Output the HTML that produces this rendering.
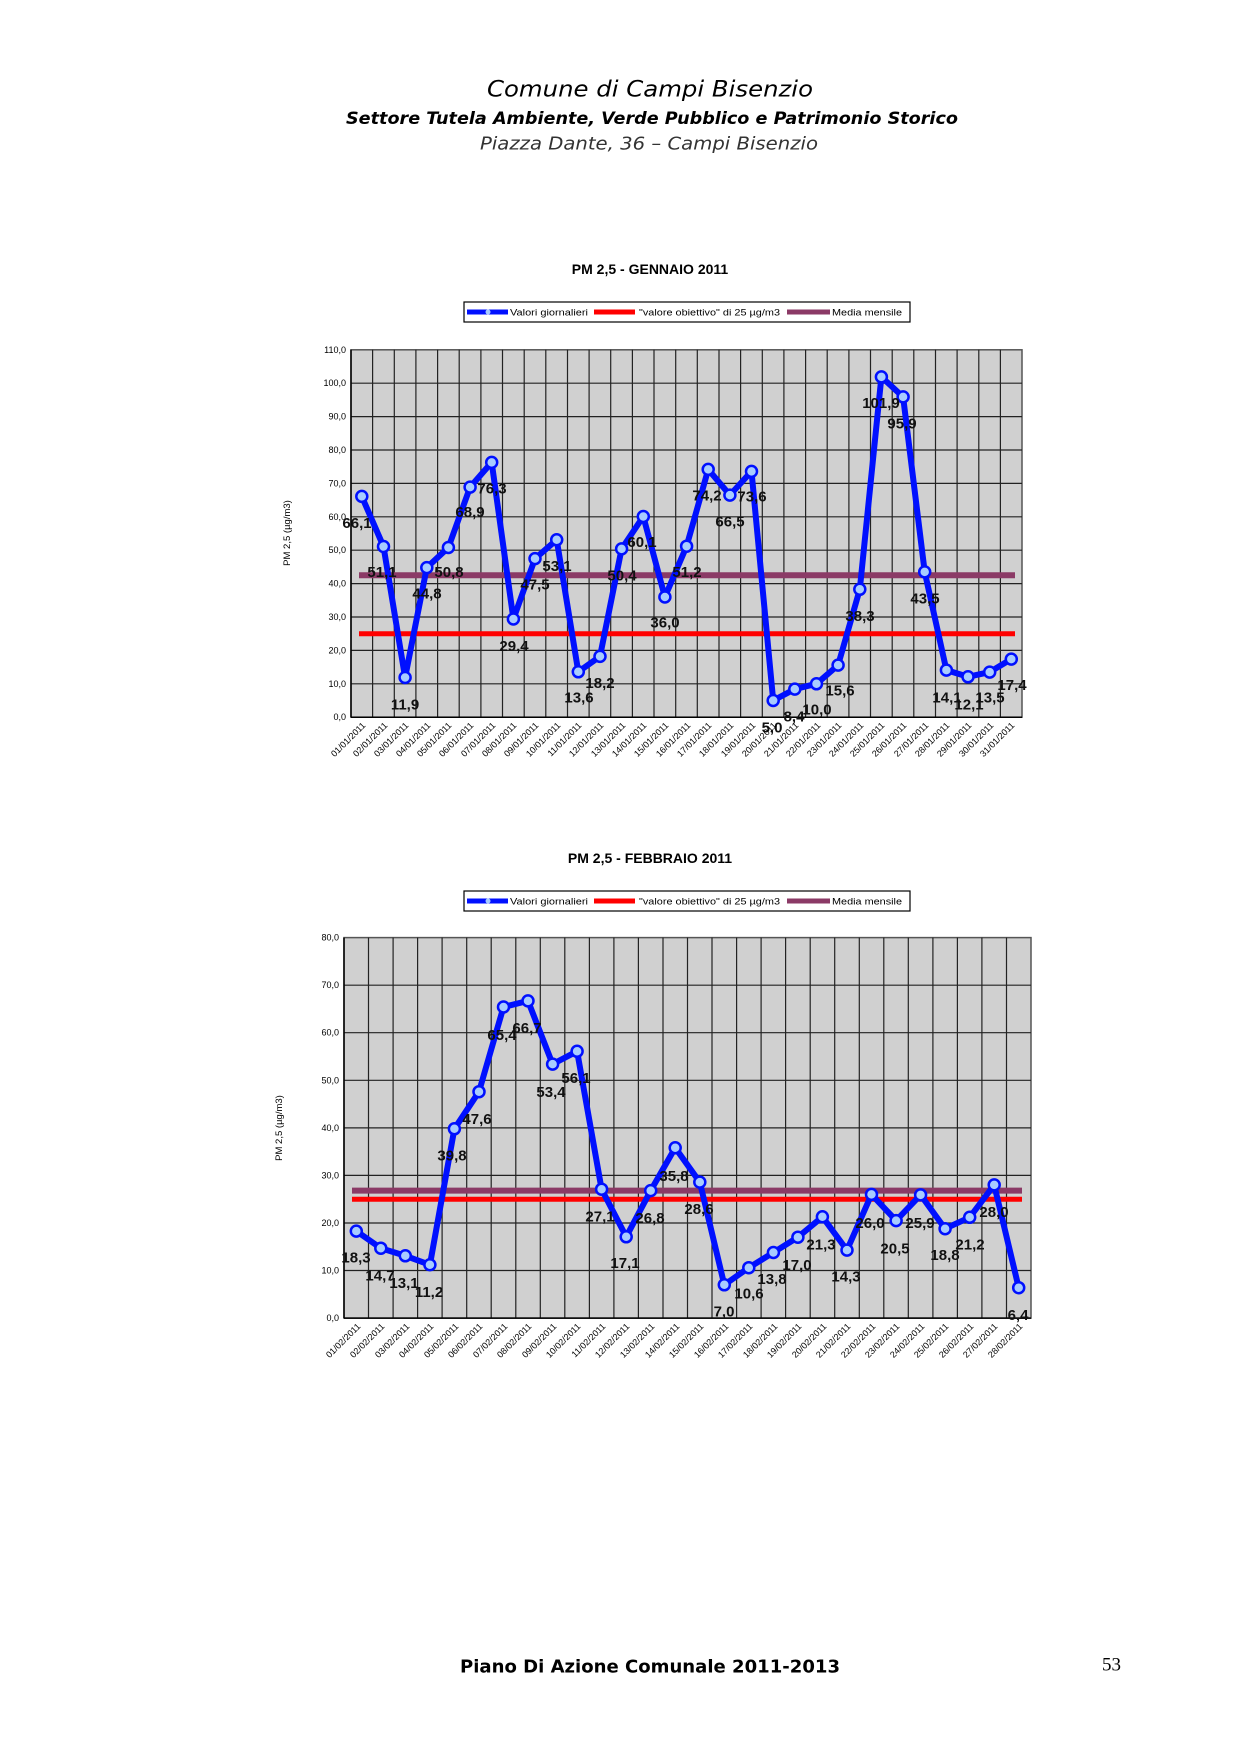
<!DOCTYPE html>
<html><head><meta charset="utf-8"><style>
html,body{margin:0;padding:0;background:#fff}
svg{display:block}
.h{font-family:"DejaVu Sans","Liberation Sans",sans-serif;text-anchor:middle}
.lb{font-family:"Liberation Sans",sans-serif;font-weight:bold;font-size:15px;text-anchor:middle;dominant-baseline:central;fill:#111}
.yt{font-family:"Liberation Sans",sans-serif;font-size:9px;text-anchor:end;dominant-baseline:central}
.xt{font-family:"Liberation Sans",sans-serif;font-size:9px;text-anchor:end}
.lg{font-family:"Liberation Sans",sans-serif;font-size:9px;dominant-baseline:central}
.tt{font-family:"Liberation Sans",sans-serif;font-weight:bold;font-size:14px;text-anchor:middle;dominant-baseline:central}
.g{stroke:#222;stroke-width:1.2}
.s{fill:none;stroke:#0010ff;stroke-width:6;stroke-linejoin:round}
.m circle{fill:#a8ccff;stroke:#0010ff;stroke-width:2.5}
</style></head><body>
<svg width="1239" height="1753" viewBox="0 0 1239 1753" xmlns="http://www.w3.org/2000/svg">
<text class="h" x="650" y="90" font-size="22" font-style="italic" dominant-baseline="central" textLength="326" lengthAdjust="spacingAndGlyphs">Comune di Campi Bisenzio</text>
<text class="h" x="652" y="119" font-size="17" font-weight="bold" font-style="italic" dominant-baseline="central" textLength="612" lengthAdjust="spacingAndGlyphs">Settore Tutela Ambiente, Verde Pubblico e Patrimonio Storico</text>
<text class="h" x="649" y="144" font-size="18" font-style="italic" fill="#333" dominant-baseline="central" textLength="338" lengthAdjust="spacingAndGlyphs">Piazza Dante, 36 – Campi Bisenzio</text>

<!-- CHART 1 -->
<text class="tt" x="650" y="269">PM 2,5 - GENNAIO 2011</text>
<rect x="464" y="302" width="446" height="20" fill="#fff" stroke="#000" stroke-width="1.2"/>
<line x1="467" y1="312" x2="508" y2="312" stroke="#0010ff" stroke-width="5"/><circle cx="488" cy="312" r="2.5" fill="#a8ccff"/>
<text class="lg" x="510" y="312.5" textLength="78" lengthAdjust="spacingAndGlyphs">Valori giornalieri</text>
<line x1="594" y1="312" x2="635" y2="312" stroke="#ff0000" stroke-width="5"/>
<text class="lg" x="639" y="312.5" textLength="141" lengthAdjust="spacingAndGlyphs">"valore obiettivo" di 25 µg/m3</text>
<line x1="787" y1="312" x2="830" y2="312" stroke="#8b3a66" stroke-width="5"/>
<text class="lg" x="832" y="312.5" textLength="70" lengthAdjust="spacingAndGlyphs">Media mensile</text>
<rect x="351" y="349.8" width="671" height="367.4" fill="#d0d0d0" stroke="#555" stroke-width="1.5"/>
<g class="g">
<line x1="351" x2="1022" y1="683.8" y2="683.8"/><line x1="351" x2="1022" y1="650.4" y2="650.4"/><line x1="351" x2="1022" y1="617" y2="617"/><line x1="351" x2="1022" y1="583.6" y2="583.6"/><line x1="351" x2="1022" y1="550.2" y2="550.2"/><line x1="351" x2="1022" y1="516.8" y2="516.8"/><line x1="351" x2="1022" y1="483.4" y2="483.4"/><line x1="351" x2="1022" y1="450" y2="450"/><line x1="351" x2="1022" y1="416.6" y2="416.6"/><line x1="351" x2="1022" y1="383.2" y2="383.2"/>
<line y1="349.8" y2="717.2" x1="372.6" x2="372.6"/><line y1="349.8" y2="717.2" x1="394.3" x2="394.3"/><line y1="349.8" y2="717.2" x1="415.9" x2="415.9"/><line y1="349.8" y2="717.2" x1="437.6" x2="437.6"/><line y1="349.8" y2="717.2" x1="459.2" x2="459.2"/><line y1="349.8" y2="717.2" x1="480.9" x2="480.9"/><line y1="349.8" y2="717.2" x1="502.5" x2="502.5"/><line y1="349.8" y2="717.2" x1="524.2" x2="524.2"/><line y1="349.8" y2="717.2" x1="545.8" x2="545.8"/><line y1="349.8" y2="717.2" x1="567.5" x2="567.5"/><line y1="349.8" y2="717.2" x1="589.1" x2="589.1"/><line y1="349.8" y2="717.2" x1="610.7" x2="610.7"/><line y1="349.8" y2="717.2" x1="632.4" x2="632.4"/><line y1="349.8" y2="717.2" x1="654" x2="654"/><line y1="349.8" y2="717.2" x1="675.7" x2="675.7"/><line y1="349.8" y2="717.2" x1="697.3" x2="697.3"/><line y1="349.8" y2="717.2" x1="719" x2="719"/><line y1="349.8" y2="717.2" x1="740.6" x2="740.6"/><line y1="349.8" y2="717.2" x1="762.3" x2="762.3"/><line y1="349.8" y2="717.2" x1="783.9" x2="783.9"/><line y1="349.8" y2="717.2" x1="805.6" x2="805.6"/><line y1="349.8" y2="717.2" x1="827.2" x2="827.2"/><line y1="349.8" y2="717.2" x1="848.9" x2="848.9"/><line y1="349.8" y2="717.2" x1="870.5" x2="870.5"/><line y1="349.8" y2="717.2" x1="892.2" x2="892.2"/><line y1="349.8" y2="717.2" x1="913.8" x2="913.8"/><line y1="349.8" y2="717.2" x1="935.5" x2="935.5"/><line y1="349.8" y2="717.2" x1="957.1" x2="957.1"/><line y1="349.8" y2="717.2" x1="978.8" x2="978.8"/><line y1="349.8" y2="717.2" x1="1000.4" x2="1000.4"/>
</g>
<line x1="351" y1="349.8" x2="351" y2="717.2" stroke="#000" stroke-width="1.5"/><line x1="351" y1="717.2" x2="1022" y2="717.2" stroke="#000" stroke-width="1.5"/>
<g class="yt"><text x="346" y="717.2">0,0</text><text x="346" y="683.8">10,0</text><text x="346" y="650.4">20,0</text><text x="346" y="617">30,0</text><text x="346" y="583.6">40,0</text><text x="346" y="550.2">50,0</text><text x="346" y="516.8">60,0</text><text x="346" y="483.4">70,0</text><text x="346" y="450">80,0</text><text x="346" y="416.6">90,0</text><text x="346" y="383.2">100,0</text><text x="346" y="349.8">110,0</text></g>
<text x="290" y="533" font-family="Liberation Sans,sans-serif" font-size="9.5" text-anchor="middle" transform="rotate(-90 290 533)">PM 2,5 (µg/m3)</text>
<line x1="359" y1="633.7" x2="1015" y2="633.7" stroke="#ff0000" stroke-width="5"/>
<line x1="359" y1="575.2" x2="1015" y2="575.2" stroke="#8b3a66" stroke-width="6"/>
<polyline class="s" points="361.8,496.4 383.5,546.5 405.1,677.5 426.8,567.6 448.4,547.5 470.1,487.1 491.7,462.4 513.4,619 535,558.6 556.7,539.8 578.3,671.8 600,656.4 621.6,548.9 643.3,516.5 664.9,597 686.6,546.2 708.2,469.4 729.9,495.1 751.5,471.4 773.2,700.5 794.8,689.1 816.5,683.8 838.1,665.1 859.8,589.3 881.4,376.9 903.1,396.9 924.7,571.9 946.4,670.1 968,676.8 989.7,672.1 1011.3,659.1"/>
<g class="m"><circle cx="361.8" cy="496.4" r="5.5"/><circle cx="383.5" cy="546.5" r="5.5"/><circle cx="405.1" cy="677.5" r="5.5"/><circle cx="426.8" cy="567.6" r="5.5"/><circle cx="448.4" cy="547.5" r="5.5"/><circle cx="470.1" cy="487.1" r="5.5"/><circle cx="491.7" cy="462.4" r="5.5"/><circle cx="513.4" cy="619" r="5.5"/><circle cx="535" cy="558.6" r="5.5"/><circle cx="556.7" cy="539.8" r="5.5"/><circle cx="578.3" cy="671.8" r="5.5"/><circle cx="600" cy="656.4" r="5.5"/><circle cx="621.6" cy="548.9" r="5.5"/><circle cx="643.3" cy="516.5" r="5.5"/><circle cx="664.9" cy="597" r="5.5"/><circle cx="686.6" cy="546.2" r="5.5"/><circle cx="708.2" cy="469.4" r="5.5"/><circle cx="729.9" cy="495.1" r="5.5"/><circle cx="751.5" cy="471.4" r="5.5"/><circle cx="773.2" cy="700.5" r="5.5"/><circle cx="794.8" cy="689.1" r="5.5"/><circle cx="816.5" cy="683.8" r="5.5"/><circle cx="838.1" cy="665.1" r="5.5"/><circle cx="859.8" cy="589.3" r="5.5"/><circle cx="881.4" cy="376.9" r="5.5"/><circle cx="903.1" cy="396.9" r="5.5"/><circle cx="924.7" cy="571.9" r="5.5"/><circle cx="946.4" cy="670.1" r="5.5"/><circle cx="968" cy="676.8" r="5.5"/><circle cx="989.7" cy="672.1" r="5.5"/><circle cx="1011.3" cy="659.1" r="5.5"/></g>
<g class="lb"><text x="357" y="523.3">66,1</text><text x="382" y="572.6">51,1</text><text x="405" y="704.9">11,9</text><text x="427" y="593.8">44,8</text><text x="449" y="572.6">50,8</text><text x="470" y="512.7">68,9</text><text x="492" y="489.1">76,3</text><text x="514" y="646.7">29,4</text><text x="535" y="585">47,5</text><text x="557" y="566.6">53,1</text><text x="579" y="697.8">13,6</text><text x="600" y="683.7">18,2</text><text x="622" y="576.2">50,4</text><text x="642" y="542.7">60,1</text><text x="665" y="623.1">36,0</text><text x="687" y="572.6">51,2</text><text x="707" y="496.1">74,2</text><text x="730" y="522.2">66,5</text><text x="752" y="496.8">73,6</text><text x="772" y="727.8">5,0</text><text x="794" y="717.2">8,4</text><text x="817" y="710.2">10,0</text><text x="840" y="690.8">15,6</text><text x="860" y="616.7">38,3</text><text x="881" y="403.4">101,9</text><text x="902" y="423.8">95,9</text><text x="925" y="599.1">43,5</text><text x="947" y="697.8">14,1</text><text x="969" y="704.9">12,1</text><text x="990" y="697.8">13,5</text><text x="1012" y="685.5">17,4</text></g>
<g class="xt">
<text transform="translate(366,726) rotate(-45)">01/01/2011</text><text transform="translate(388,726) rotate(-45)">02/01/2011</text><text transform="translate(409,726) rotate(-45)">03/01/2011</text><text transform="translate(431,726) rotate(-45)">04/01/2011</text><text transform="translate(452,726) rotate(-45)">05/01/2011</text><text transform="translate(474,726) rotate(-45)">06/01/2011</text><text transform="translate(496,726) rotate(-45)">07/01/2011</text><text transform="translate(517,726) rotate(-45)">08/01/2011</text><text transform="translate(539,726) rotate(-45)">09/01/2011</text><text transform="translate(561,726) rotate(-45)">10/01/2011</text><text transform="translate(582,726) rotate(-45)">11/01/2011</text><text transform="translate(604,726) rotate(-45)">12/01/2011</text><text transform="translate(626,726) rotate(-45)">13/01/2011</text><text transform="translate(647,726) rotate(-45)">14/01/2011</text><text transform="translate(669,726) rotate(-45)">15/01/2011</text><text transform="translate(691,726) rotate(-45)">16/01/2011</text><text transform="translate(712,726) rotate(-45)">17/01/2011</text><text transform="translate(734,726) rotate(-45)">18/01/2011</text><text transform="translate(756,726) rotate(-45)">19/01/2011</text><text transform="translate(777,726) rotate(-45)">20/01/2011</text><text transform="translate(799,726) rotate(-45)">21/01/2011</text><text transform="translate(821,726) rotate(-45)">22/01/2011</text><text transform="translate(842,726) rotate(-45)">23/01/2011</text><text transform="translate(864,726) rotate(-45)">24/01/2011</text><text transform="translate(885,726) rotate(-45)">25/01/2011</text><text transform="translate(907,726) rotate(-45)">26/01/2011</text><text transform="translate(929,726) rotate(-45)">27/01/2011</text><text transform="translate(950,726) rotate(-45)">28/01/2011</text><text transform="translate(972,726) rotate(-45)">29/01/2011</text><text transform="translate(994,726) rotate(-45)">30/01/2011</text><text transform="translate(1015,726) rotate(-45)">31/01/2011</text>
</g>

<!-- CHART 2 -->
<text class="tt" x="650" y="858">PM 2,5 - FEBBRAIO 2011</text>
<rect x="464" y="891" width="446" height="20" fill="#fff" stroke="#000" stroke-width="1.2"/>
<line x1="467" y1="901" x2="508" y2="901" stroke="#0010ff" stroke-width="5"/><circle cx="488" cy="901" r="2.5" fill="#a8ccff"/>
<text class="lg" x="510" y="901.5" textLength="78" lengthAdjust="spacingAndGlyphs">Valori giornalieri</text>
<line x1="594" y1="901" x2="635" y2="901" stroke="#ff0000" stroke-width="5"/>
<text class="lg" x="639" y="901.5" textLength="141" lengthAdjust="spacingAndGlyphs">"valore obiettivo" di 25 µg/m3</text>
<line x1="787" y1="901" x2="830" y2="901" stroke="#8b3a66" stroke-width="5"/>
<text class="lg" x="832" y="901.5" textLength="70" lengthAdjust="spacingAndGlyphs">Media mensile</text>
<rect x="344" y="937.6" width="687" height="380.5" fill="#d0d0d0" stroke="#555" stroke-width="1.5"/>
<g class="g">
<line x1="344" x2="1031" y1="1270.5" y2="1270.5"/><line x1="344" x2="1031" y1="1223" y2="1223"/><line x1="344" x2="1031" y1="1175.4" y2="1175.4"/><line x1="344" x2="1031" y1="1127.9" y2="1127.9"/><line x1="344" x2="1031" y1="1080.3" y2="1080.3"/><line x1="344" x2="1031" y1="1032.7" y2="1032.7"/><line x1="344" x2="1031" y1="985.2" y2="985.2"/>
<line y1="937.6" y2="1318.1" x1="368.5" x2="368.5"/><line y1="937.6" y2="1318.1" x1="393.1" x2="393.1"/><line y1="937.6" y2="1318.1" x1="417.6" x2="417.6"/><line y1="937.6" y2="1318.1" x1="442.1" x2="442.1"/><line y1="937.6" y2="1318.1" x1="466.7" x2="466.7"/><line y1="937.6" y2="1318.1" x1="491.2" x2="491.2"/><line y1="937.6" y2="1318.1" x1="515.8" x2="515.8"/><line y1="937.6" y2="1318.1" x1="540.3" x2="540.3"/><line y1="937.6" y2="1318.1" x1="564.8" x2="564.8"/><line y1="937.6" y2="1318.1" x1="589.4" x2="589.4"/><line y1="937.6" y2="1318.1" x1="613.9" x2="613.9"/><line y1="937.6" y2="1318.1" x1="638.4" x2="638.4"/><line y1="937.6" y2="1318.1" x1="663" x2="663"/><line y1="937.6" y2="1318.1" x1="687.5" x2="687.5"/><line y1="937.6" y2="1318.1" x1="712" x2="712"/><line y1="937.6" y2="1318.1" x1="736.6" x2="736.6"/><line y1="937.6" y2="1318.1" x1="761.1" x2="761.1"/><line y1="937.6" y2="1318.1" x1="785.6" x2="785.6"/><line y1="937.6" y2="1318.1" x1="810.2" x2="810.2"/><line y1="937.6" y2="1318.1" x1="834.7" x2="834.7"/><line y1="937.6" y2="1318.1" x1="859.3" x2="859.3"/><line y1="937.6" y2="1318.1" x1="883.8" x2="883.8"/><line y1="937.6" y2="1318.1" x1="908.3" x2="908.3"/><line y1="937.6" y2="1318.1" x1="932.9" x2="932.9"/><line y1="937.6" y2="1318.1" x1="957.4" x2="957.4"/><line y1="937.6" y2="1318.1" x1="981.9" x2="981.9"/><line y1="937.6" y2="1318.1" x1="1006.5" x2="1006.5"/>
</g>
<line x1="344" y1="937.6" x2="344" y2="1318.1" stroke="#000" stroke-width="1.5"/><line x1="344" y1="1318.1" x2="1031" y2="1318.1" stroke="#000" stroke-width="1.5"/>
<g class="yt"><text x="339" y="1318.1">0,0</text><text x="339" y="1270.5">10,0</text><text x="339" y="1223">20,0</text><text x="339" y="1175.4">30,0</text><text x="339" y="1127.9">40,0</text><text x="339" y="1080.3">50,0</text><text x="339" y="1032.7">60,0</text><text x="339" y="985.2">70,0</text><text x="339" y="937.6">80,0</text></g>
<text x="282" y="1128" font-family="Liberation Sans,sans-serif" font-size="9.5" text-anchor="middle" transform="rotate(-90 282 1128)">PM 2,5 (µg/m3)</text>
<line x1="352" y1="1199.2" x2="1022" y2="1199.2" stroke="#ff0000" stroke-width="5"/>
<line x1="352" y1="1190.6" x2="1022" y2="1190.6" stroke="#8b3a66" stroke-width="6"/>
<polyline class="s" points="356.3,1231.1 380.8,1248.2 405.3,1255.8 429.9,1264.8 454.4,1128.8 479,1091.7 503.5,1007 528,1000.9 552.6,1064.1 577.1,1051.3 601.6,1189.2 626.2,1236.8 650.7,1190.6 675.2,1147.8 699.8,1182.1 724.3,1284.8 748.8,1267.7 773.4,1252.5 797.9,1237.2 822.4,1216.8 847,1250.1 871.5,1194.4 896.1,1220.6 920.6,1194.9 945.1,1228.7 969.7,1217.3 994.2,1184.9 1018.7,1287.7"/>
<g class="m"><circle cx="356.3" cy="1231.1" r="5.5"/><circle cx="380.8" cy="1248.2" r="5.5"/><circle cx="405.3" cy="1255.8" r="5.5"/><circle cx="429.9" cy="1264.8" r="5.5"/><circle cx="454.4" cy="1128.8" r="5.5"/><circle cx="479" cy="1091.7" r="5.5"/><circle cx="503.5" cy="1007" r="5.5"/><circle cx="528" cy="1000.9" r="5.5"/><circle cx="552.6" cy="1064.1" r="5.5"/><circle cx="577.1" cy="1051.3" r="5.5"/><circle cx="601.6" cy="1189.2" r="5.5"/><circle cx="626.2" cy="1236.8" r="5.5"/><circle cx="650.7" cy="1190.6" r="5.5"/><circle cx="675.2" cy="1147.8" r="5.5"/><circle cx="699.8" cy="1182.1" r="5.5"/><circle cx="724.3" cy="1284.8" r="5.5"/><circle cx="748.8" cy="1267.7" r="5.5"/><circle cx="773.4" cy="1252.5" r="5.5"/><circle cx="797.9" cy="1237.2" r="5.5"/><circle cx="822.4" cy="1216.8" r="5.5"/><circle cx="847" cy="1250.1" r="5.5"/><circle cx="871.5" cy="1194.4" r="5.5"/><circle cx="896.1" cy="1220.6" r="5.5"/><circle cx="920.6" cy="1194.9" r="5.5"/><circle cx="945.1" cy="1228.7" r="5.5"/><circle cx="969.7" cy="1217.3" r="5.5"/><circle cx="994.2" cy="1184.9" r="5.5"/><circle cx="1018.7" cy="1287.7" r="5.5"/></g>
<g class="lb"><text x="356" y="1258.2">18,3</text><text x="380" y="1276.1">14,7</text><text x="404" y="1283.3">13,1</text><text x="429" y="1292.3">11,2</text><text x="452" y="1155.9">39,8</text><text x="477" y="1119.3">47,6</text><text x="502" y="1035.6">65,4</text><text x="527" y="1028.4">66,7</text><text x="551" y="1092.3">53,4</text><text x="576" y="1078.7">56,1</text><text x="600" y="1216.9">27,1</text><text x="625" y="1263.5">17,1</text><text x="650" y="1218.7">26,8</text><text x="674" y="1176.7">35,8</text><text x="699" y="1209.7">28,6</text><text x="724" y="1312">7,0</text><text x="749" y="1294.1">10,6</text><text x="772" y="1279.7">13,8</text><text x="797" y="1265.3">17,0</text><text x="821" y="1244.9">21,3</text><text x="846" y="1277.2">14,3</text><text x="870" y="1223.3">26,0</text><text x="895" y="1249.2">20,5</text><text x="920" y="1223.3">25,9</text><text x="945" y="1255.6">18,8</text><text x="970" y="1244.9">21,2</text><text x="994" y="1212.6">28,0</text><text x="1018" y="1315.6">6,4</text></g>
<g class="xt">
<text transform="translate(361,1327) rotate(-45)">01/02/2011</text><text transform="translate(385,1327) rotate(-45)">02/02/2011</text><text transform="translate(410,1327) rotate(-45)">03/02/2011</text><text transform="translate(434,1327) rotate(-45)">04/02/2011</text><text transform="translate(459,1327) rotate(-45)">05/02/2011</text><text transform="translate(483,1327) rotate(-45)">06/02/2011</text><text transform="translate(508,1327) rotate(-45)">07/02/2011</text><text transform="translate(532,1327) rotate(-45)">08/02/2011</text><text transform="translate(557,1327) rotate(-45)">09/02/2011</text><text transform="translate(581,1327) rotate(-45)">10/02/2011</text><text transform="translate(606,1327) rotate(-45)">11/02/2011</text><text transform="translate(630,1327) rotate(-45)">12/02/2011</text><text transform="translate(655,1327) rotate(-45)">13/02/2011</text><text transform="translate(680,1327) rotate(-45)">14/02/2011</text><text transform="translate(704,1327) rotate(-45)">15/02/2011</text><text transform="translate(729,1327) rotate(-45)">16/02/2011</text><text transform="translate(753,1327) rotate(-45)">17/02/2011</text><text transform="translate(778,1327) rotate(-45)">18/02/2011</text><text transform="translate(802,1327) rotate(-45)">19/02/2011</text><text transform="translate(827,1327) rotate(-45)">20/02/2011</text><text transform="translate(851,1327) rotate(-45)">21/02/2011</text><text transform="translate(876,1327) rotate(-45)">22/02/2011</text><text transform="translate(900,1327) rotate(-45)">23/02/2011</text><text transform="translate(925,1327) rotate(-45)">24/02/2011</text><text transform="translate(949,1327) rotate(-45)">25/02/2011</text><text transform="translate(974,1327) rotate(-45)">26/02/2011</text><text transform="translate(998,1327) rotate(-45)">27/02/2011</text><text transform="translate(1023,1327) rotate(-45)">28/02/2011</text>
</g>

<text x="460" y="1667" font-family="DejaVu Sans,Liberation Sans,sans-serif" font-size="18" font-weight="bold" dominant-baseline="central" textLength="380" lengthAdjust="spacingAndGlyphs">Piano Di Azione Comunale  2011-2013</text>
<text x="1102" y="1665" font-family="Liberation Serif,serif" font-size="19" dominant-baseline="central">53</text>
</svg>
</body></html>
